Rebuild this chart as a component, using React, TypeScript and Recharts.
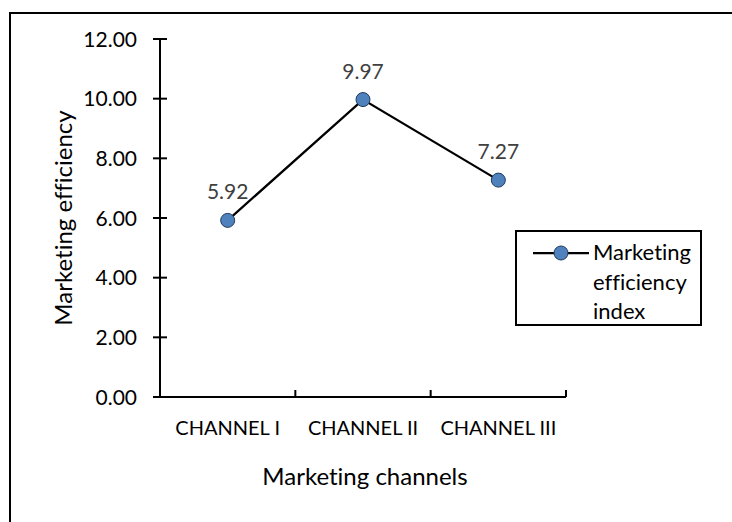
import React from 'react';
import { LineChart, Line, XAxis, YAxis, LabelList, Label } from 'recharts';

const categories = ['CHANNEL I', 'CHANNEL II', 'CHANNEL III'];
const efficiency = [5.92, 9.97, 7.27];
const yTicks = [0, 2, 4, 6, 8, 10, 12];
const seriesName = 'Marketing efficiency index';
const xTitle = 'Marketing channels';
const yTitle = 'Marketing efficiency';

const data = categories.map((c, i) => ({ channel: c, value: efficiency[i] }));

const FONT = 'Lato, "Open Sans", sans-serif';
const NOLIG = { fontVariantLigatures: 'none' as const, fontFeatureSettings: '"liga" 0' };
const W = 732;
const H = 522;
const PLOT_LEFT = 160;
const PLOT_RIGHT = 566;
const PLOT_TOP = 39;
const PLOT_BOTTOM = 397;
const STEP = (PLOT_RIGHT - PLOT_LEFT) / categories.length;

const XTick = (props: any) => {
  const { x, payload } = props;
  return (
    <g>
      <line x1={x + STEP / 2} x2={x + STEP / 2} y1={PLOT_BOTTOM} y2={PLOT_BOTTOM - 7} stroke="#000" strokeWidth={2} />
      <text x={x} y={PLOT_BOTTOM + 38} textAnchor="middle" fontFamily={FONT} fontSize={20} fill="#000" style={NOLIG}>
        {payload.value}
      </text>
    </g>
  );
};

const YTick = (props: any) => {
  const { y, payload } = props;
  return (
    <g>
      <line x1={PLOT_LEFT - 7} x2={PLOT_LEFT + 7} y1={y} y2={y} stroke="#000" strokeWidth={2} />
      <text x={PLOT_LEFT - 23} y={y} dy="0.36em" textAnchor="end" fontFamily={FONT} fontSize={21} fill="#000">
        {Number(payload.value).toFixed(2)}
      </text>
    </g>
  );
};

const LegendBox = () => (
  <div
    style={{
      position: 'absolute',
      left: 515,
      top: 230,
      width: 187,
      height: 96,
      border: '2px solid #000',
      background: '#fff',
      boxSizing: 'border-box',
      fontFamily: FONT,
      fontSize: 22,
      color: '#000',
      ...NOLIG,
    }}
  >
    <svg width={60} height={20} style={{ position: 'absolute', left: 16, top: 11 }}>
      <line x1={0} x2={56} y1={10} y2={10} stroke="#000" strokeWidth={2.25} />
      <circle cx={28} cy={10} r={7} fill="#4F81BD" stroke="#1f3a5f" strokeWidth={1} />
    </svg>
    <div style={{ position: 'absolute', left: 76, top: 5, lineHeight: '29.5px', width: 108 }}>
      {seriesName.split(' ').map((w, i) => (
        <div key={i}>{w}</div>
      ))}
    </div>
  </div>
);

export default function App() {
  return (
    <div style={{ position: 'fixed', left: 0, top: 0, width: W, height: H, background: '#fff', overflow: 'hidden' }}>
      <div
        style={{
          position: 'absolute',
          left: 9,
          top: 12,
          width: W + 20,
          height: H + 20,
          borderTop: '2px solid #000',
          borderLeft: '2px solid #000',
        }}
      />
      <div style={{ position: 'absolute', left: 0, top: 0 }}>
        <LineChart
          width={W}
          height={H}
          data={data}
          margin={{ top: PLOT_TOP, right: W - PLOT_RIGHT, bottom: 0, left: 0 }}
        >
          <XAxis
            dataKey="channel"
            padding={{ left: STEP / 2, right: STEP / 2 }}
            axisLine={{ stroke: '#000', strokeWidth: 2 }}
            tickLine={false}
            tick={<XTick />}
            interval={0}
            height={H - PLOT_BOTTOM}
          >
            <Label
              content={() => (
                <text x={(PLOT_LEFT + PLOT_RIGHT) / 2 + 2} y={485} textAnchor="middle" fontFamily={FONT} fontSize={24} fill="#000" style={NOLIG}>
                  {xTitle}
                </text>
              )}
            />
          </XAxis>
          <YAxis
            width={PLOT_LEFT}
            domain={[0, 12]}
            ticks={yTicks}
            interval={0}
            axisLine={{ stroke: '#000', strokeWidth: 2 }}
            tickLine={false}
            tick={<YTick />}
          >
            <Label
              content={() => (
                <text
                  x={63}
                  y={(PLOT_TOP + PLOT_BOTTOM) / 2}
                  transform={`rotate(-90 63 ${(PLOT_TOP + PLOT_BOTTOM) / 2})`}
                  textAnchor="middle"
                  dy="0.36em"
                  fontFamily={FONT}
                  fontSize={24}
                  fill="#000"
                  style={NOLIG}
                >
                  {yTitle}
                </text>
              )}
            />
          </YAxis>
          <Line
            name={seriesName}
            dataKey="value"
            stroke="#000"
            strokeWidth={2.25}
            dot={{ r: 7, fill: '#4F81BD', stroke: '#1f3a5f', strokeWidth: 1 }}
            activeDot={false}
            isAnimationActive={false}
          >
            <LabelList
              dataKey="value"
              position="top"
              offset={21}
              formatter={(v: any) => Number(v).toFixed(2)}
              style={{ fontFamily: FONT, fontSize: 21, fill: '#404040' }}
            />
          </Line>
        </LineChart>
      </div>
      <LegendBox />
    </div>
  );
}
